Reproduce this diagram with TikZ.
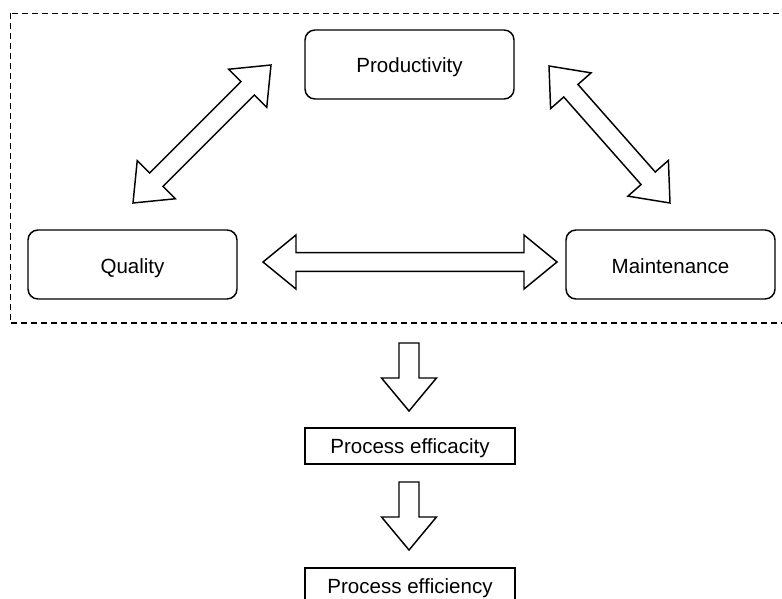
\documentclass[tikz,border=0pt]{standalone}
\usepackage{fontspec}
\setmainfont{Liberation Sans}
\usetikzlibrary{calc,positioning}

\tikzset{
  every picture/.style={line width=1.1pt},
  rbox/.style={draw, rounded corners=7.5pt, minimum width=156.75pt, minimum height=51.75pt,
    text height=14pt, text depth=1.25pt, font=\fontsize{15.4}{18}\selectfont},
  pbox/.style={draw, minimum width=157.5pt, minimum height=27pt,
    text height=12pt, text depth=1.5pt, font=\fontsize{15.4}{18}\selectfont},
  % hollow block arrow, tips at both ends
  dblock/.style={to path={
    ($(\tikztostart)!24.75pt!(\tikztotarget)$) coordinate (ba)
    ($(\tikztotarget)!24.75pt!(\tikztostart)$) coordinate (bb)
    (\tikztostart) -- ($(ba)!20.25pt!90:(\tikztotarget)$) -- ($(ba)!7.1pt!90:(\tikztotarget)$)
    -- ($(bb)!7.1pt!-90:(\tikztostart)$) -- ($(bb)!20.25pt!-90:(\tikztostart)$) -- (\tikztotarget)
    -- ($(bb)!20.25pt!90:(\tikztostart)$) -- ($(bb)!7.1pt!90:(\tikztostart)$)
    -- ($(ba)!7.1pt!-90:(\tikztotarget)$) -- ($(ba)!20.25pt!-90:(\tikztotarget)$) -- cycle}},
  % hollow block arrow, one tip
  sblock/.style={to path={
    ($(\tikztotarget)!24.75pt!(\tikztostart)$) coordinate (bb)
    ($(\tikztostart)!7.5pt!90:(\tikztotarget)$) -- ($(bb)!7.5pt!-90:(\tikztostart)$)
    -- ($(bb)!20.6pt!-90:(\tikztostart)$) -- (\tikztotarget)
    -- ($(bb)!20.6pt!90:(\tikztostart)$) -- ($(bb)!7.5pt!90:(\tikztostart)$)
    -- ($(\tikztostart)!7.5pt!-90:(\tikztotarget)$) -- cycle}}
}

\begin{document}
\begin{tikzpicture}[x=0.75pt, y=-0.75pt]
    \useasboundingbox (0,0) rectangle (782,599);
    \clip (0,0) rectangle (782,599);
    \draw [dash pattern=on 4.5pt off 3pt] (10.5,13.5) rectangle (800,323);

    \node [rbox] (prod) at (409.5,64.5) {Productivity};
    \node [rbox] (qual) at (132.5,264.5) {Quality};
    \node [rbox] (main) at (670.5,264.5) {Maintenance};
    \node [pbox] (effc) at (410,446) {Process efficacity};
    \node [pbox] (effi) at (410,586) {Process efficiency};

    % arrow ends
    \coordinate (qp1) at (133,203);
    \coordinate (qp2) at (271,65);
    \coordinate (pm1) at (549,66);
    \coordinate (pm2) at (670,203);
    \coordinate (qm1) at (263,262);
    \coordinate (qm2) at (557,262);
    \coordinate (d1a) at (409,343);
    \coordinate (d1b) at (409,411);
    \coordinate (d2a) at (409,482);
    \coordinate (d2b) at (409,550);

    \draw [dblock] (qp1) to (qp2);
    \draw [dblock] (pm1) to (pm2);
    \draw [dblock] (qm1) to (qm2);
    \draw [sblock] (d1a) to (d1b);
    \draw [sblock] (d2a) to (d2b);
  \end{tikzpicture}
\end{document}
